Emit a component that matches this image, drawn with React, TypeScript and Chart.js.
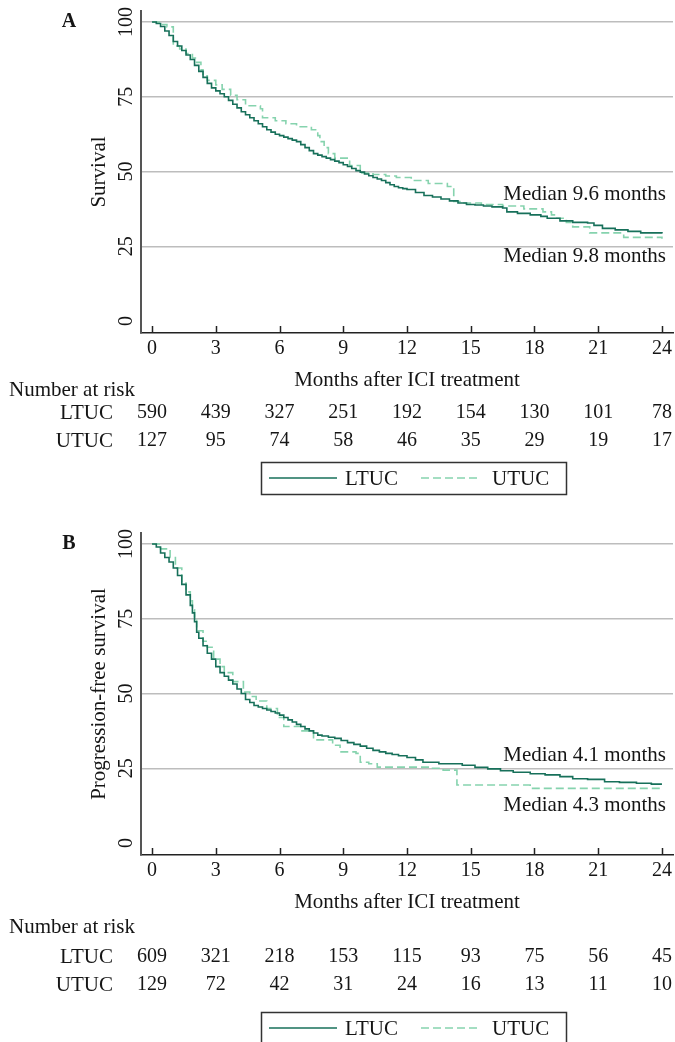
import React, { useEffect, useRef } from "react";
import { Chart, registerables } from "chart.js";

Chart.register(...registerables);

const SERIF = "'Liberation Serif', 'Times New Roman', serif";

// ---------- data ----------
const groups = ["LTUC", "UTUC"];
const monthTicks = [0, 3, 6, 9, 12, 15, 18, 21, 24];
const survivalTicks = [0, 25, 50, 75, 100];

// Panel A: overall survival
const osLtucMonths = [0, 0.2, 0.4, 0.6, 0.8, 1.0, 1.2, 1.4, 1.6, 1.8, 2.0, 2.2, 2.4, 2.6, 2.8, 3.0, 3.2, 3.4, 3.6, 3.8, 4.0, 4.2, 4.4, 4.6, 4.8, 5.0, 5.2, 5.4, 5.6, 5.8, 6.0, 6.2, 6.4, 6.6, 6.8, 7.0, 7.2, 7.4, 7.6, 7.8, 8.0, 8.2, 8.4, 8.6, 8.8, 9.0, 9.2, 9.4, 9.6, 9.8, 10.0, 10.2, 10.4, 10.6, 10.8, 11.0, 11.2, 11.4, 11.6, 11.8, 12.0, 12.4, 12.8, 13.2, 13.6, 14.0, 14.4, 14.8, 15.2, 15.6, 16.0, 16.5, 16.7, 17.2, 17.8, 18.3, 18.6, 19.2, 19.8, 20.5, 20.8, 21.2, 21.8, 22.4, 23.0, 24.0];
const osLtucSurv = [100, 99.5, 98.5, 97, 95.5, 93.5, 92, 90.5, 89, 87.5, 85.5, 83.5, 81.5, 79.5, 78, 77, 76, 75, 73.8, 72.5, 71.3, 70, 69, 68, 67, 66, 65, 64, 63.2, 62.5, 62, 61.5, 61, 60.5, 60, 59, 58, 57, 56, 55.5, 55, 54.5, 54, 53.5, 53, 52.3, 51.7, 51, 50.3, 49.8, 49.2, 48.6, 48, 47.5, 47, 46.3, 45.6, 45, 44.6, 44.3, 44, 43, 42, 41.5, 40.8, 40.2, 39.5, 39, 38.8, 38.5, 38.2, 37.8, 36.5, 36, 35.5, 35, 34.4, 33.5, 33, 32.8, 32, 31, 30.5, 30, 29.5, 29.3];
const osUtucMonths = [0, 0.4, 0.7, 1.0, 1.3, 1.6, 1.9, 2.1, 2.3, 2.4, 2.6, 3.0, 3.3, 3.7, 4.0, 4.4, 5.1, 5.2, 5.8, 6.3, 6.8, 7.5, 7.8, 7.9, 8.1, 8.3, 8.6, 9.3, 9.8, 10.4, 11.0, 11.5, 12.2, 13.0, 13.9, 14.2, 14.6, 15.5, 16.5, 17.5, 18.4, 18.8, 19.0, 19.5, 19.8, 20.6, 22.2, 24.0];
const osUtucSurv = [100, 99.2, 98.4, 92, 91, 89.5, 88, 86.5, 84, 82, 80.5, 79, 77.5, 75.5, 74, 72, 71, 68, 67, 66, 65, 64, 62, 60, 58, 56, 54.5, 52, 49.5, 49, 48.5, 48, 47, 46, 45, 40, 39.5, 39, 38.5, 37.5, 36.5, 35.5, 34.4, 33, 31.5, 29.5, 28, 27.5];
const osRiskLtuc = [590, 439, 327, 251, 192, 154, 130, 101, 78];
const osRiskUtuc = [127, 95, 74, 58, 46, 35, 29, 19, 17];
const osMedians = ["Median 9.6 months", "Median 9.8 months"];

// Panel B: progression-free survival
const pfsLtucMonths = [0, 0.2, 0.4, 0.6, 0.8, 1.0, 1.2, 1.4, 1.6, 1.8, 1.9, 2.0, 2.1, 2.2, 2.4, 2.6, 2.8, 3.0, 3.2, 3.4, 3.6, 3.8, 4.0, 4.2, 4.4, 4.6, 4.8, 5.0, 5.2, 5.4, 5.6, 5.8, 6.0, 6.2, 6.4, 6.6, 6.8, 7.0, 7.2, 7.4, 7.6, 7.8, 8.0, 8.3, 8.6, 8.9, 9.2, 9.5, 9.8, 10.1, 10.4, 10.7, 11.0, 11.3, 11.6, 12.0, 12.4, 12.75, 13.5, 14.6, 15.2, 15.8, 16.4, 17.0, 17.8, 18.5, 19.2, 19.8, 20.5, 21.3, 22.0, 22.8, 23.5, 24.0];
const pfsLtucSurv = [100, 99, 97, 95.5, 94, 92, 89.5, 86.5, 83, 79.5, 77, 74, 70.5, 68.5, 66, 63.5, 61.5, 59, 57, 55.8, 54.5, 53.2, 51.5, 50, 48, 47, 46, 45.5, 45, 44.5, 44, 43.5, 42.8, 42, 41.2, 40.5, 39.7, 39, 38.2, 37.5, 36.8, 36.1, 35.8, 35.4, 35, 34.3, 33.6, 33, 32.4, 31.7, 31, 30.5, 30, 29.6, 29.2, 28.6, 27.8, 27, 26.5, 26, 25.3, 24.8, 24.2, 23.7, 23.2, 22.8, 22.2, 21.5, 21.3, 20.5, 20.3, 20, 19.7, 19.7];
const pfsUtucMonths = [0, 0.4, 0.85, 1.1, 1.4, 1.6, 1.8, 1.9, 2.0, 2.1, 2.4, 2.6, 2.9, 3.2, 3.4, 3.8, 4.3, 4.6, 4.9, 5.4, 5.9, 6.2, 7.0, 7.6, 8.5, 8.85, 9.6, 9.8, 10.2, 10.6, 13.2, 13.7, 14.35, 17.8, 24.0];
const pfsUtucSurv = [100, 98.4, 95.5, 92, 87, 84, 81, 78, 75, 71, 67.5, 65.5, 61.5, 59, 57, 54, 50.5, 49, 47.5, 45, 42, 39, 37.5, 34.5, 32.7, 30.5, 30, 27, 26.5, 25.4, 25, 24.4, 19.4, 18.3, 18.1];
const pfsRiskLtuc = [609, 321, 218, 153, 115, 93, 75, 56, 45];
const pfsRiskUtuc = [129, 72, 42, 31, 24, 16, 13, 11, 10];
const pfsMedians = ["Median 4.1 months", "Median 4.3 months"];

// ---------- styling ----------
const LTUC_COLOR = "#17705a";
const UTUC_COLOR = "#86d3ae";
const TEXT = "#151515";

type PanelCfg = {
  letter: string;
  yTitle: string;
  ltucMonths: number[];
  ltucSurv: number[];
  utucMonths: number[];
  utucSurv: number[];
  riskLtuc: number[];
  riskUtuc: number[];
  medians: string[];
  medianY: number[];
  riskTitleY: number;
  riskRowY: number[];
  legendTop: number;
};

const panels: { cfg: PanelCfg; top: number; height: number }[] = [
  {
    top: 0,
    height: 522,
    cfg: {
      letter: "A",
      yTitle: "Survival",
      ltucMonths: osLtucMonths,
      ltucSurv: osLtucSurv,
      utucMonths: osUtucMonths,
      utucSurv: osUtucSurv,
      riskLtuc: osRiskLtuc,
      riskUtuc: osRiskUtuc,
      medians: osMedians,
      medianY: [194, 256],
      riskTitleY: 390,
      riskRowY: [413, 441],
      legendTop: 462,
    },
  },
  {
    top: 522,
    height: 520,
    cfg: {
      letter: "B",
      yTitle: "Progression-free survival",
      ltucMonths: pfsLtucMonths,
      ltucSurv: pfsLtucSurv,
      utucMonths: pfsUtucMonths,
      utucSurv: pfsUtucSurv,
      riskLtuc: pfsRiskLtuc,
      riskUtuc: pfsRiskUtuc,
      medians: pfsMedians,
      medianY: [233, 283],
      riskTitleY: 405,
      riskRowY: [435, 463],
      legendTop: 490,
    },
  },
];

function decorPlugin(cfg: PanelCfg) {
  return {
    id: "decor",
    afterDraw(chart: any) {
      const { ctx, chartArea, scales } = chart;
      const xs = scales.x;
      const ys = scales.y;
      ctx.save();

      // inward tick marks on x axis
      ctx.strokeStyle = "#222";
      ctx.lineWidth = 1.5;
      monthTicks.forEach((m) => {
        const px = Math.round(xs.getPixelForValue(m)) + 0.5;
        ctx.beginPath();
        ctx.moveTo(px, chartArea.bottom);
        ctx.lineTo(px, chartArea.bottom - 7);
        ctx.stroke();
      });

      ctx.fillStyle = TEXT;

      // x tick labels
      ctx.font = `20px ${SERIF}`;
      ctx.textAlign = "center";
      ctx.textBaseline = "middle";
      monthTicks.forEach((m) => {
        ctx.fillText(String(m), xs.getPixelForValue(m), chartArea.bottom + 16);
      });

      // rotated y tick labels
      survivalTicks.forEach((v) => {
        const py = ys.getPixelForValue(v);
        ctx.save();
        ctx.translate(127, py);
        ctx.rotate(-Math.PI / 2);
        ctx.fillText(String(v), 0, 0);
        ctx.restore();
      });

      // y axis title
      ctx.font = `21px ${SERIF}`;
      ctx.save();
      ctx.translate(99, (chartArea.top + chartArea.bottom) / 2);
      ctx.rotate(-Math.PI / 2);
      ctx.fillText(cfg.yTitle, 0, 0);
      ctx.restore();

      // panel letter
      ctx.font = `bold 20px ${SERIF}`;
      ctx.fillText(cfg.letter, 69, 22);

      // medians
      ctx.font = `21px ${SERIF}`;
      ctx.textAlign = "right";
      cfg.medians.forEach((t, i) => ctx.fillText(t, 666, cfg.medianY[i]));

      // x axis title
      ctx.textAlign = "center";
      ctx.fillText("Months after ICI treatment", (chartArea.left + chartArea.right) / 2, 380);

      // number at risk table
      ctx.textAlign = "left";
      ctx.fillText("Number at risk", 9, cfg.riskTitleY);
      ctx.textAlign = "right";
      groups.forEach((g, i) => ctx.fillText(g, 113, cfg.riskRowY[i]));
      ctx.font = `20px ${SERIF}`;
      ctx.textAlign = "center";
      [cfg.riskLtuc, cfg.riskUtuc].forEach((row, i) => {
        row.forEach((n, j) => {
          ctx.fillText(String(n), xs.getPixelForValue(monthTicks[j]), cfg.riskRowY[i]);
        });
      });

      // legend
      const lt = cfg.legendTop;
      ctx.strokeStyle = "#333";
      ctx.lineWidth = 1.5;
      ctx.strokeRect(261.5, lt + 0.5, 305, 32);
      const ly = lt + 16;
      ctx.strokeStyle = LTUC_COLOR;
      ctx.lineWidth = 1.6;
      ctx.beginPath();
      ctx.moveTo(269, ly);
      ctx.lineTo(337, ly);
      ctx.stroke();
      ctx.strokeStyle = UTUC_COLOR;
      ctx.setLineDash([8, 4]);
      ctx.beginPath();
      ctx.moveTo(421, ly);
      ctx.lineTo(481, ly);
      ctx.stroke();
      ctx.setLineDash([]);
      ctx.font = `21px ${SERIF}`;
      ctx.textAlign = "left";
      ctx.fillStyle = TEXT;
      ctx.fillText(groups[0], 345, ly + 1);
      ctx.fillText(groups[1], 492, ly + 1);

      ctx.restore();
    },
  };
}

function Panel({ cfg, top, height }: { cfg: PanelCfg; top: number; height: number }) {
  const ref = useRef<HTMLCanvasElement>(null);
  useEffect(() => {
    const canvas = ref.current;
    if (!canvas) return;
    const chart = new Chart(canvas, {
      type: "line",
      data: {
        datasets: [
          {
            label: groups[0],
            data: cfg.ltucMonths.map((m, i) => ({ x: m, y: cfg.ltucSurv[i] })),
            borderColor: LTUC_COLOR,
            borderWidth: 1.6,
            pointRadius: 0,
            stepped: true,
            fill: false,
          },
          {
            label: groups[1],
            data: cfg.utucMonths.map((m, i) => ({ x: m, y: cfg.utucSurv[i] })),
            borderColor: UTUC_COLOR,
            borderWidth: 1.6,
            borderDash: [8, 4],
            pointRadius: 0,
            stepped: true,
            fill: false,
          },
        ],
      },
      options: {
        responsive: false,
        animation: false,
        devicePixelRatio: 1,
        layout: { padding: { left: 141, right: 2, top: 11, bottom: height - 333 } },
        plugins: { legend: { display: false }, tooltip: { enabled: false } },
        scales: {
          x: {
            type: "linear",
            min: -0.52,
            max: 24.52,
            afterBuildTicks: (s: any) => {
              s.ticks = monthTicks.map((v) => ({ value: v }));
            },
            afterFit: (s: any) => {
              s.height = 0;
            },
            grid: { display: false, drawTicks: false },
            border: { display: true, color: "#222", width: 1.5 },
            ticks: { display: false },
          },
          y: {
            type: "linear",
            min: -4,
            max: 103.7,
            afterBuildTicks: (s: any) => {
              s.ticks = survivalTicks.map((v) => ({ value: v }));
            },
            afterFit: (s: any) => {
              s.width = 0;
            },
            grid: {
              drawTicks: false,
              lineWidth: 1.5,
              color: (c: any) => (c.tick && c.tick.value === 0 ? "rgba(0,0,0,0)" : "#bdbdbd"),
            },
            border: { display: true, color: "#555", width: 2 },
            ticks: { display: false },
          },
        },
      },
      plugins: [decorPlugin(cfg)],
    });
    return () => chart.destroy();
  }, []);
  return (
    <canvas
      ref={ref}
      width={675}
      height={height}
      style={{ position: "absolute", left: 0, top, width: 675, height, display: "block" }}
    />
  );
}

export default function App() {
  return (
    <div style={{ position: "absolute", left: 0, top: 0, width: 675, height: 1042, background: "#fff", overflow: "hidden" }}>
      {panels.map((p) => (
        <Panel key={p.cfg.letter} cfg={p.cfg} top={p.top} height={p.height} />
      ))}
    </div>
  );
}
